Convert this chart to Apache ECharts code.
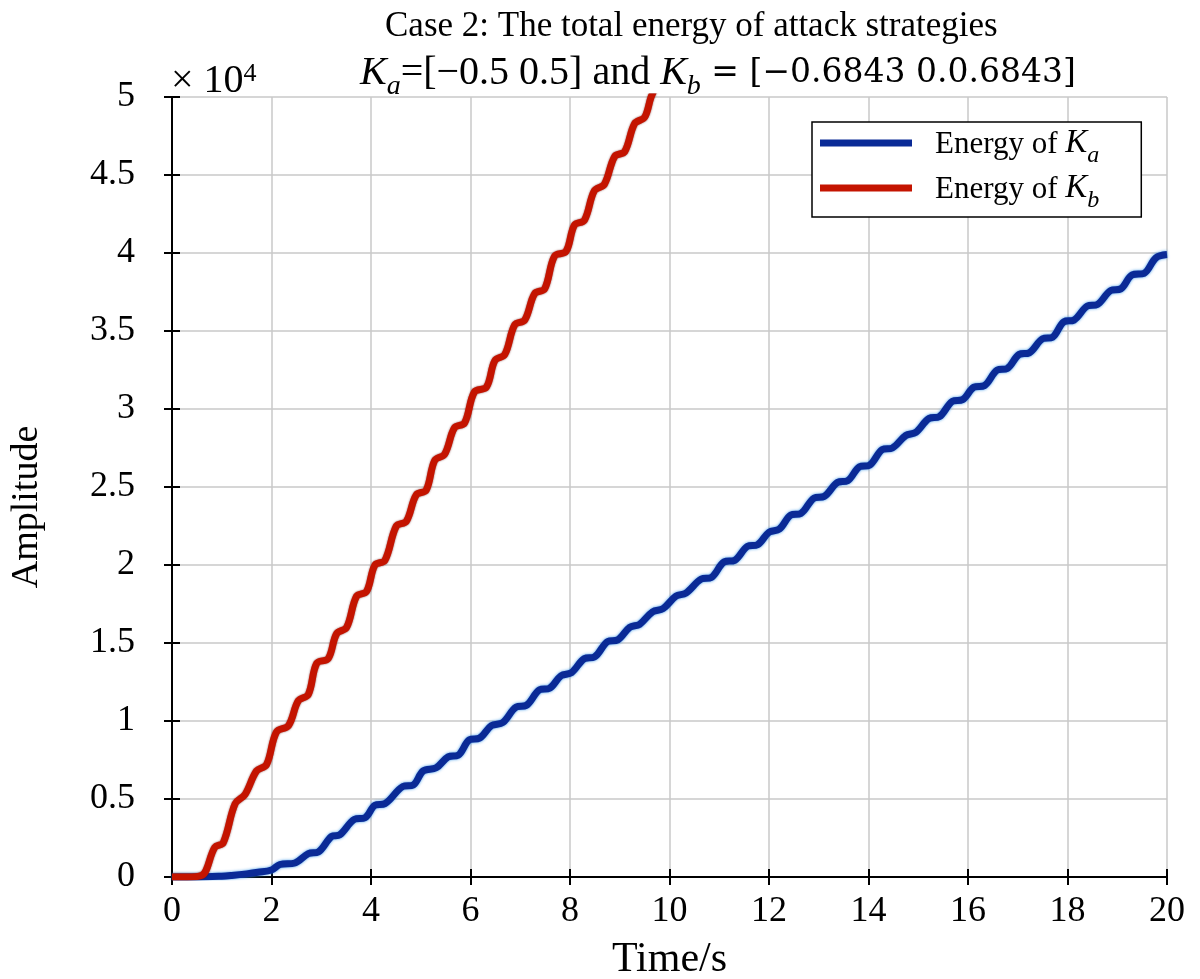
<!DOCTYPE html>
<html>
<head>
<meta charset="utf-8">
<script src="https://cdn.jsdelivr.net/npm/echarts@6/dist/echarts.min.js"></script>
<style>html,body{margin:0;padding:0;background:#fff}#c{width:1200px;height:979px}</style>
</head>
<body>
<div id="c"></div>
<script>
// Values in units of 1e4
const timeA = [0,0.5,1.0,1.2,1.5,1.73,2.0,2.17,2.47,2.74,2.94,3.21,3.37,3.67,3.88,4.08,4.28,4.64,4.85,5.05,5.31,5.55,5.75,5.98,6.18,6.42,6.65,6.92,7.12,7.39,7.59,7.82,8.03,8.29,8.49,8.76,8.96,9.20,9.40,9.66,9.87,10.13,10.33,10.64,10.84,11.10,11.31,11.57,11.77,12.0,12.21,12.44,12.64,12.91,13.11,13.38,13.58,13.82,14.02,14.28,14.48,14.75,14.95,15.22,15.42,15.69,15.89,16.12,16.33,16.59,16.79,17.03,17.23,17.50,17.70,17.93,18.13,18.40,18.60,18.87,19.07,19.30,19.54,19.78,20.0];
const energyA = [0,0.0,0.005,0.01,0.02,0.03,0.045,0.08,0.09,0.15,0.16,0.26,0.27,0.37,0.38,0.46,0.47,0.58,0.59,0.68,0.70,0.77,0.78,0.88,0.89,0.97,0.99,1.09,1.10,1.20,1.21,1.29,1.31,1.40,1.41,1.51,1.52,1.60,1.62,1.70,1.72,1.80,1.82,1.91,1.92,2.02,2.03,2.12,2.13,2.21,2.23,2.32,2.33,2.43,2.44,2.53,2.54,2.63,2.64,2.74,2.75,2.83,2.85,2.94,2.95,3.05,3.06,3.14,3.15,3.25,3.26,3.35,3.36,3.45,3.46,3.56,3.57,3.66,3.67,3.76,3.77,3.86,3.87,3.97,3.99];
const timeB = [0,0.3,0.6,0.86,1.03,1.27,1.47,1.70,1.90,2.10,2.34,2.54,2.74,2.91,3.14,3.31,3.51,3.71,3.91,4.08,4.28,4.51,4.71,4.91,5.11,5.28,5.48,5.68,5.88,6.08,6.32,6.49,6.69,6.89,7.09,7.29,7.49,7.69,7.92,8.09,8.29,8.49,8.69,8.90,9.10,9.30,9.50,9.63,9.75];
const energyB = [0,0.0,0.01,0.19,0.22,0.47,0.53,0.68,0.72,0.93,0.97,1.13,1.17,1.37,1.40,1.56,1.60,1.80,1.83,2.00,2.03,2.25,2.28,2.45,2.48,2.67,2.71,2.88,2.91,3.11,3.14,3.31,3.35,3.54,3.57,3.74,3.77,3.98,4.01,4.18,4.21,4.40,4.44,4.62,4.65,4.83,4.87,5.00,5.08];
const xTicks = [0,2,4,6,8,10,12,14,16,18,20];
const yTicks = [0,0.5,1,1.5,2,2.5,3,3.5,4,4.5,5];

const FONT = '"Liberation Serif","Times New Roman",serif';
const MATH = '"DejaVu Serif",serif';
const pairsA = timeA.map((t,i)=>[t, energyA[i]]);
const pairsB = timeB.map((t,i)=>[t, energyB[i]]);

const chart = echarts.init(document.getElementById('c'), null, {renderer:'canvas'});
const axisCommon = {
  axisLine:{show:true, lineStyle:{color:'#000', width:2}},
  axisTick:{show:true, inside:true, length:8, lineStyle:{color:'#000', width:2}},
};
const option = {
  backgroundColor:'#fff',
  animation:false,
  textStyle:{fontFamily:FONT},
  title:[
    {text:'Case 2: The total energy of attack strategies', left:380, top:4,
     textStyle:{fontFamily:FONT, fontSize:35, fontWeight:'normal', color:'#000'}},
    {text:'{k|K}{s|a}{n|=[−0.5 0.5] and }{k|K}{s|b}{m| = [−0.6843 0.0.6843]}', left:355, top:46,
     textStyle:{fontWeight:'normal', rich:{
       k:{fontFamily:FONT, fontStyle:'italic', fontWeight:'normal', fontSize:40, color:'#000', lineHeight:42, verticalAlign:'bottom'},
       s:{fontFamily:FONT, fontStyle:'italic', fontWeight:'normal', fontSize:28, color:'#000', lineHeight:28, verticalAlign:'bottom', padding:[0,0,-8,0]},
       n:{fontFamily:FONT, fontWeight:'normal', fontSize:40, color:'#000', lineHeight:42, verticalAlign:'bottom'},
       m:{fontFamily:MATH, fontWeight:'normal', fontSize:33, color:'#000', lineHeight:42, verticalAlign:'bottom', padding:[0,0,3,0]}
     }}},
    {text:'{m|× 10}{e|4}', left:166, top:56,
     textStyle:{fontWeight:'normal', rich:{
       m:{fontFamily:FONT, fontWeight:'normal', fontSize:40, color:'#000', lineHeight:40, verticalAlign:'bottom'},
       e:{fontFamily:FONT, fontWeight:'normal', fontSize:26, color:'#000', lineHeight:26, verticalAlign:'top'}
     }}}
  ],
  legend:{
    orient:'vertical', left:812, top:122, padding:[5,42,4,8], itemGap:4,
    backgroundColor:'#fff', borderColor:'#000', borderWidth:1.5,
    itemWidth:92, itemHeight:7, icon:'rect',
    data:['A','B'],
    formatter:(n)=> n==='A' ? '{t|Energy of }{k|K}{s|a}' : '{t|Energy of }{k|K}{s|b}',
    textStyle:{padding:[0,0,0,18], rich:{
      t:{fontFamily:FONT, fontSize:31, color:'#000', lineHeight:34, verticalAlign:'bottom'},
      k:{fontFamily:FONT, fontStyle:'italic', fontSize:33, color:'#000', lineHeight:34, verticalAlign:'bottom'},
      s:{fontFamily:FONT, fontStyle:'italic', fontSize:24, color:'#000', lineHeight:24, verticalAlign:'bottom', padding:[0,0,-8,0]}
    }}
  },
  grid:{left:172, right:33, top:97, bottom:102, containLabel:false, outerBoundsMode:'none'},
  xAxis:[
    Object.assign({type:'value', min:0, max:20, interval:2, position:'bottom',
      name:'Time/s', nameLocation:'middle', nameGap:62,
      nameTextStyle:{fontFamily:FONT, fontSize:42, color:'#000'},
      axisLabel:{fontFamily:FONT, fontSize:36, color:'#000', margin:17, formatter:(v)=> xTicks.includes(v)? String(v):''},
      splitLine:{show:true, lineStyle:{color:'#c8c8c8', width:1.5}}}, axisCommon),
    Object.assign({type:'value', min:0, max:20, interval:2, position:'top',
      axisLabel:{show:false}, splitLine:{show:false}}, axisCommon)
  ],
  yAxis:[
    Object.assign({type:'value', min:0, max:5, interval:0.5, position:'left',
      name:'Amplitude', nameLocation:'middle', nameGap:126, nameRotate:90,
      nameTextStyle:{fontFamily:FONT, fontSize:38, color:'#000', padding:[0,40,0,0]},
      axisLabel:{fontFamily:FONT, fontSize:36, color:'#000', margin:37, formatter:(v)=> yTicks.includes(v)? String(v):''},
      splitLine:{show:true, lineStyle:{color:'#c8c8c8', width:1.5}}}, axisCommon),
    Object.assign({type:'value', min:0, max:5, interval:0.5, position:'right',
      axisLabel:{show:false}, splitLine:{show:false}}, axisCommon)
  ],
  series:[
    {name:'A', type:'line', xAxisIndex:0, yAxisIndex:0, data:pairsA, showSymbol:false, symbol:'none', smooth:0.35,
     color:'#0a2a96',
     lineStyle:{color:'#0a2a96', width:7, shadowColor:'rgba(40,140,230,0.9)', shadowBlur:3}},
    {name:'B', type:'line', xAxisIndex:0, yAxisIndex:0, data:pairsB, showSymbol:false, symbol:'none', smooth:0.35,
     color:'#c41400',
     lineStyle:{color:'#c41400', width:7, shadowColor:'rgba(90,0,0,0.7)', shadowBlur:2}}
  ]
};
chart.setOption(option);
</script>
</body>
</html>
